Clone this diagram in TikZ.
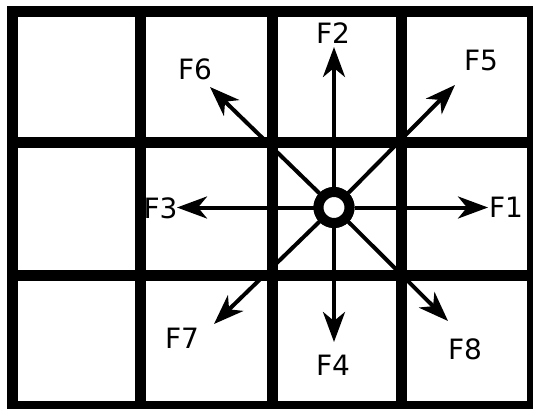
\documentclass[tikz,border=0pt]{standalone}
\usepackage{fontspec}
\setmainfont{DejaVu Sans}
\usetikzlibrary{arrows.meta}
\begin{document}
\begin{tikzpicture}[x=1pt,y=-1pt,
  gridline/.style={line width=11pt,line cap=rect},
  force/.style={line width=4pt,-{Stealth[length=30pt,width=22pt,inset=9pt]}},
  lab/.style={inner sep=0pt,font=\fontsize{28}{33}\selectfont},
  hub/.style={circle,draw,line width=10pt,minimum size=31pt,inner sep=0pt,fill=white}]
\useasboundingbox (0,0) rectangle (533,409);
\fill[white] (0,0) rectangle (533,409);
% grid
\foreach \x in {12,140.5,272,401.5,532} \draw[gridline] (\x,12) -- (\x,406);
\foreach \y in {12,143,275,406} \draw[gridline] (12,\y) -- (532,\y);
% hub
\node[hub] (c) at (334,207.5) {};
% tips
\coordinate (t1) at (488,207.5);
\coordinate (t2) at (334,47);
\coordinate (t3) at (177,207.5);
\coordinate (t4) at (334,342);
\coordinate (t5) at (455,85);
\coordinate (t6) at (210,87);
\coordinate (t7) at (214,324);
\coordinate (t8) at (448,321);
\foreach \i in {1,...,8} \draw[force] (c) -- (t\i);
\node[hub] at (c) {};
% labels
\node[lab] (f1) at (506,207.5) {F1};
\node[lab] (f2) at (333,33) {F2};
\node[lab] (f3) at (160.5,208) {F3};
\node[lab] (f4) at (333,365) {F4};
\node[lab] (f5) at (481,60) {F5};
\node[lab] (f6) at (195,69) {F6};
\node[lab] (f7) at (182,338) {F7};
\node[lab] (f8) at (465,349) {F8};
\end{tikzpicture}
\end{document}
